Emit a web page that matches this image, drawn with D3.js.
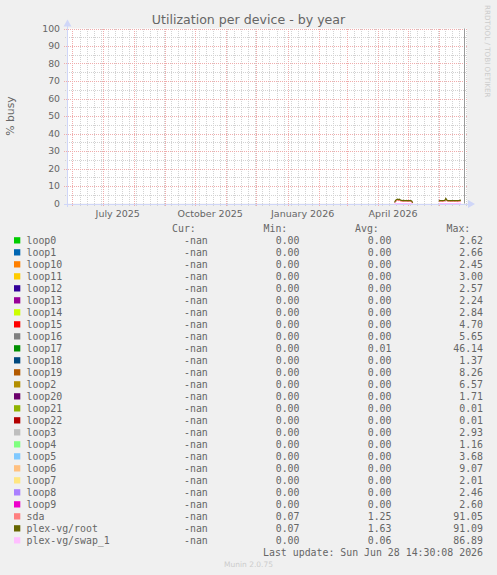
<!DOCTYPE html>
<html>
<head>
<meta charset="utf-8">
<script src="https://cdn.jsdelivr.net/npm/d3@7/dist/d3.min.js"></script>
<style>
  body { margin: 0; background: #f0f0f0; }
  svg { display: block; }
</style>
</head>
<body>
<div id="chart-area"></div>
<script>
// legend rows, in munin's drawing order
const devices = ["loop0", "loop1", "loop10", "loop11", "loop12", "loop13", "loop14", "loop15",
    "loop16", "loop17", "loop18", "loop19", "loop2", "loop20", "loop21", "loop22", "loop3",
    "loop4", "loop5", "loop6", "loop7", "loop8", "loop9", "sda", "plex-vg/root", "plex-vg/swap_1"];
const deviceColors = ["#00cc00", "#0066b3", "#ff8000", "#ffcc00", "#330099", "#990099", "#ccff00",
    "#ff0000", "#808080", "#008f00", "#00487d", "#b35a00", "#b38f00", "#6b006b", "#8fb300",
    "#b30000", "#bebebe", "#80ff80", "#80c9ff", "#ffc080", "#ffe680", "#aa80ff", "#ee00cc",
    "#ff8080", "#666600", "#ffbfff"];
const curValues = devices.map(() => "-nan");
const minValues = [0, 0, 0, 0, 0, 0, 0, 0, 0, 0, 0, 0, 0, 0, 0, 0, 0, 0, 0, 0, 0, 0, 0, 0.07, 0.07, 0];
const avgValues = [0, 0, 0, 0, 0, 0, 0, 0, 0, 0.01, 0, 0, 0, 0, 0, 0, 0, 0, 0, 0, 0, 0, 0, 1.25, 1.63, 0.06];
const maxValues = [2.62, 2.66, 2.45, 3.00, 2.57, 2.24, 2.84, 4.70, 5.65, 46.14, 1.37, 8.26, 6.57,
    1.71, 0.01, 0.01, 2.93, 1.16, 3.68, 9.07, 2.01, 2.46, 2.60, 91.05, 91.09, 86.89];

// axes
const yTicks = [0, 10, 20, 30, 40, 50, 60, 70, 80, 90, 100];
const monthLabels = ["July 2025", "October 2025", "January 2026", "April 2026"];
const monthLabelDates = ["2025-07-16", "2025-10-16", "2026-01-16", "2026-04-16"];
const startTime = "2025-05-26T12:40:00";
const endTime = "2026-06-28T13:30:00";
const lastUpdate = "Last update: Sun Jun 28 14:30:08 2026";

// daily samples (null = no data)
const sampleDays = [
    "2026-04-17", "2026-04-18", "2026-04-19", "2026-04-20", "2026-04-21", "2026-04-22", "2026-04-23",
    "2026-04-24", "2026-04-25", "2026-04-26", "2026-04-27", "2026-04-28", "2026-04-29", "2026-04-30",
    "2026-05-01", "2026-05-02", "2026-05-03", "2026-05-04", "2026-05-05", "2026-05-06",
    "2026-05-31", "2026-06-01", "2026-06-02", "2026-06-03", "2026-06-04", "2026-06-05", "2026-06-06",
    "2026-06-07", "2026-06-08", "2026-06-09", "2026-06-10", "2026-06-11", "2026-06-12", "2026-06-13",
    "2026-06-14", "2026-06-15", "2026-06-16", "2026-06-17", "2026-06-18", "2026-06-19", "2026-06-20",
    "2026-06-21", "2026-06-22"];
const sdaValues = [
    0.5, 1.4, 1.8, 2.0, 1.7, 1.9, 1.5, 1.4, 1.3, 1.4, 1.3, 1.3, 1.4, 1.2, 1.3, 1.3, 1.2, 1.1, 0.3, null,
    1.1, 1.3, 1.3, 1.3, 1.2, 1.3, 1.4, 2.4, 1.6, 1.3, 1.3, 1.3, 1.2, 1.3, 1.3, 1.3, 1.2, 1.3, 1.3,
    1.2, 1.3, 1.4, 1.5];
const rootValues = [
    0.6, 1.8, 2.3, 2.5, 2.2, 2.4, 1.9, 1.8, 1.7, 1.8, 1.7, 1.7, 1.8, 1.6, 1.7, 1.7, 1.6, 1.4, 0.4, null,
    1.5, 1.7, 1.7, 1.7, 1.6, 1.7, 1.8, 2.9, 2.0, 1.7, 1.7, 1.7, 1.6, 1.7, 1.7, 1.7, 1.6, 1.7, 1.7,
    1.6, 1.7, 1.8, 1.9];
const swapValues = [
    0.3, 0.1, 0, 0, 0, 0, 0, 0, 0, 0, 0, 0, 0, 0, 0, 0, 0, 0, 0, null,
    0, 0, 0, 0, 0, 0, 0, 0, 0, 0, 0, 0, 0, 0, 0, 0, 0, 0, 0.1, 0.2, 0.1, 0.1, 0.1];

const plotted = [
    {name: "sda", values: sdaValues},
    {name: "plex-vg/root", values: rootValues},
    {name: "plex-vg/swap_1", values: swapValues}
];

const W = 497, H = 575;
const plot = {left: 67, right: 467, top: 28.5, bottom: 203.5};
const fontColor = "#666666";
const axisColor = "#cfd6f8";
const minorColor = "#d2d2d2";
const majorColor = "#f0acac";
const sans = "'DejaVu Sans', Verdana, sans-serif";
const mono = "'DejaVu Sans Mono', monospace";

var svg = d3.select("#chart-area")
    .append("svg")
        .attr("width", W)
        .attr("height", H);

svg.append("rect").attr("width", W).attr("height", H).attr("fill", "#f0f0f0");

var parseDay = d3.timeParse("%Y-%m-%d");
var parseTime = d3.timeParse("%Y-%m-%dT%H:%M:%S");

var x = d3.scaleTime()
    .domain([parseTime(startTime), parseTime(endTime)])
    .range([plot.left, plot.right]);

var y = d3.scaleLinear()
    .domain([0, 100])
    .range([plot.bottom, plot.top]);

// canvas
svg.append("rect")
    .attr("x", plot.left)
    .attr("y", plot.top)
    .attr("width", plot.right - plot.left)
    .attr("height", plot.bottom - plot.top)
    .attr("fill", "#ffffff");

var grid = svg.append("g").attr("shape-rendering", "crispEdges");

// minor grid: weeks and every 5 %
var weeks = d3.timeWeek.range(x.domain()[0], x.domain()[1]);
grid.selectAll(".vminor").data(weeks).enter().append("line")
    .attr("x1", d => Math.round(x(d)) + 0.5)
    .attr("x2", d => Math.round(x(d)) + 0.5)
    .attr("y1", plot.top)
    .attr("y2", plot.bottom + 2)
    .attr("stroke", minorColor)
    .attr("stroke-dasharray", "1,1");

var minorY = d3.range(5, 100, 10);
grid.selectAll(".hminor").data(minorY).enter().append("line")
    .attr("x1", plot.left - 2)
    .attr("x2", plot.right)
    .attr("y1", d => Math.round(y(d)) + 0.5)
    .attr("y2", d => Math.round(y(d)) + 0.5)
    .attr("stroke", minorColor)
    .attr("stroke-dasharray", "1,1");

// major grid: months and every 10 %
var months = d3.timeMonth.range(x.domain()[0], x.domain()[1]);
grid.selectAll(".vmajor").data(months).enter().append("line")
    .attr("x1", d => Math.round(x(d)) + 0.5)
    .attr("x2", d => Math.round(x(d)) + 0.5)
    .attr("y1", plot.top)
    .attr("y2", plot.bottom + 3)
    .attr("stroke", majorColor)
    .attr("stroke-dasharray", "1,1");

grid.selectAll(".hmajor").data(yTicks.filter(d => d > 0)).enter().append("line")
    .attr("x1", plot.left - 3)
    .attr("x2", plot.right)
    .attr("y1", d => Math.round(y(d)) + 0.5)
    .attr("y2", d => Math.round(y(d)) + 0.5)
    .attr("stroke", majorColor)
    .attr("stroke-dasharray", "1,1");

// right frame line
svg.append("line")
    .attr("x1", plot.right - 2.5).attr("x2", plot.right - 2.5)
    .attr("y1", plot.top).attr("y2", plot.bottom)
    .attr("stroke", "#999999")
    .attr("stroke-width", 1);

// axes with arrows
var axes = svg.append("g").attr("shape-rendering", "crispEdges");
axes.append("line")
    .attr("x1", plot.left - 3).attr("x2", plot.right + 2)
    .attr("y1", Math.round(plot.bottom) + 0.5).attr("y2", Math.round(plot.bottom) + 0.5)
    .attr("stroke", axisColor);
axes.append("line")
    .attr("x1", plot.left + 0.5).attr("x2", plot.left + 0.5)
    .attr("y1", plot.bottom + 3).attr("y2", plot.top - 4)
    .attr("stroke", axisColor);
svg.append("path")
    .attr("d", `M${plot.right + 1},${plot.bottom - 3.5} L${plot.right + 8},${plot.bottom + 0.5} L${plot.right + 1},${plot.bottom + 4.5} Z`)
    .attr("fill", axisColor);
svg.append("path")
    .attr("d", `M${plot.left - 3.5},${plot.top - 2} L${plot.left + 0.5},${plot.top - 9} L${plot.left + 4.5},${plot.top - 2} Z`)
    .attr("fill", axisColor);

// y tick labels
svg.selectAll(".ylab").data(yTicks).enter().append("text")
    .attr("x", plot.left - 7)
    .attr("y", d => y(d) + 3.3)
    .attr("text-anchor", "end")
    .attr("font-family", sans)
    .attr("font-size", "9.3px")
    .attr("fill", fontColor)
    .text(d => d);

// x labels
svg.selectAll(".xlab").data(monthLabels).enter().append("text")
    .attr("x", (d, i) => x(parseDay(monthLabelDates[i])))
    .attr("y", 216.5)
    .attr("text-anchor", "middle")
    .attr("font-family", sans)
    .attr("font-size", "9.5px")
    .attr("fill", fontColor)
    .text(d => d);

// data lines
var line = d3.line()
    .defined(d => d.v !== null)
    .x(d => x(d.t))
    .y(d => y(d.v));

for (let s of plotted) {
    let pts = sampleDays.map((day, i) => ({t: d3.timeHour.offset(parseDay(day), 12), v: s.values[i]}));
    svg.append("path")
        .datum(pts)
        .attr("d", line)
        .attr("fill", "none")
        .attr("stroke", deviceColors[devices.indexOf(s.name)])
        .attr("stroke-width", 1.2);
}

// title and labels
svg.append("text")
    .attr("x", W / 2)
    .attr("y", 23.5)
    .attr("text-anchor", "middle")
    .attr("font-family", sans)
    .attr("font-size", "12.6px")
    .attr("fill", fontColor)
    .text("Utilization per device - by year");

svg.append("text")
    .attr("transform", "translate(13.5," + ((plot.top + plot.bottom) / 2) + ") rotate(-90)")
    .attr("text-anchor", "middle")
    .attr("font-family", sans)
    .attr("font-size", "10.8px")
    .attr("fill", fontColor)
    .text("% busy");

svg.append("text")
    .attr("transform", "translate(485,5) rotate(90)")
    .attr("font-family", sans)
    .attr("font-size", "7.2px")
    .attr("fill", "#cccccc")
    .text("RRDTOOL / TOBI OETIKER");

// legend table
const rowTop = 243.5, rowStep = 12;
var legend = svg.append("g")
    .attr("font-family", mono)
    .attr("font-size", "9.9px")
    .attr("fill", fontColor);

const headers = ["Cur:", "Min:", "Avg:", "Max:"];
const headerX = [172, 263.5, 355, 446.5];
legend.selectAll(".hdr").data(headers).enter().append("text")
    .attr("x", (d, i) => headerX[i])
    .attr("y", rowTop - rowStep)
    .text(d => d);

var rows = legend.selectAll(".row").data(devices).enter().append("g")
    .attr("transform", (d, i) => "translate(0," + (rowTop + i * rowStep) + ")");

rows.append("rect")
    .attr("x", 14)
    .attr("y", -6.3)
    .attr("width", 6.3)
    .attr("height", 6.3)
    .attr("fill", (d, i) => deviceColors[i]);

rows.append("text")
    .attr("x", 26.5)
    .text(d => d);

const colRight = [207.8, 299.5, 391.5, 483];
rows.append("text").attr("x", colRight[0]).attr("text-anchor", "end").text((d, i) => curValues[i]);
rows.append("text").attr("x", colRight[1]).attr("text-anchor", "end").text((d, i) => minValues[i].toFixed(2));
rows.append("text").attr("x", colRight[2]).attr("text-anchor", "end").text((d, i) => avgValues[i].toFixed(2));
rows.append("text").attr("x", colRight[3]).attr("text-anchor", "end").text((d, i) => maxValues[i].toFixed(2));

legend.append("text")
    .attr("x", colRight[3])
    .attr("y", rowTop + devices.length * rowStep)
    .attr("text-anchor", "end")
    .text(lastUpdate);

svg.append("text")
    .attr("x", W / 2)
    .attr("y", 566.5)
    .attr("text-anchor", "middle")
    .attr("font-family", sans)
    .attr("font-size", "7.5px")
    .attr("fill", "#cccccc")
    .text("Munin 2.0.75");
</script>
</body>
</html>
